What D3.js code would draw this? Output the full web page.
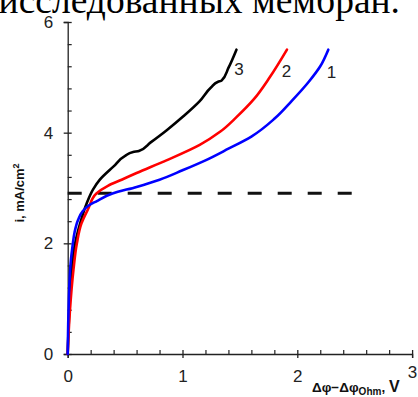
<!DOCTYPE html>
<html>
<head>
<meta charset="utf-8">
<script src="https://cdn.jsdelivr.net/npm/d3@7"></script>
<style>
  html, body { margin: 0; padding: 0; background: #fff; }
  svg { display: block; }
</style>
</head>
<body>
<svg id="chart" width="418" height="397"></svg>
<script>
// Polarisation curves: current density vs. potential drop (minus ohmic part)
const curve1X = [0, 0.004, 0.010, 0.018, 0.028, 0.042, 0.06, 0.09, 0.13, 0.18, 0.25, 0.39, 0.6, 0.8, 1.0, 1.2, 1.4, 1.6, 1.8, 1.95, 2.1, 2.2, 2.27];
const curve1I = [0, 0.5, 1.0, 1.4, 1.7, 1.95, 2.2, 2.42, 2.58, 2.68, 2.76, 2.9, 3.02, 3.15, 3.32, 3.5, 3.71, 3.93, 4.25, 4.57, 4.92, 5.2, 5.5];

const curve2X = [0, 0.006, 0.02, 0.05, 0.08, 0.12, 0.18, 0.25, 0.35, 0.47, 0.6, 0.86, 1.15, 1.33, 1.47, 1.62, 1.76, 1.91];
const curve2I = [0, 0.3, 0.8, 1.52, 2.0, 2.36, 2.63, 2.9, 3.04, 3.15, 3.27, 3.5, 3.78, 4.02, 4.28, 4.6, 5.0, 5.5];

const curve3X = [0, 0.01, 0.02, 0.035, 0.06, 0.107, 0.165, 0.22, 0.28, 0.40, 0.5, 0.57, 0.62, 0.72, 0.86, 1.01, 1.15, 1.25, 1.31, 1.34, 1.40, 1.47];
const curve3I = [0, 0.6, 1.1, 1.5, 1.95, 2.35, 2.72, 2.97, 3.15, 3.39, 3.58, 3.65, 3.67, 3.82, 4.04, 4.3, 4.57, 4.82, 4.92, 4.94, 5.17, 5.5];

// Limiting current level (dashed)
const limitX = [0, 2.52];
const limitI = [2.906, 2.906];

const xMajorTicks = [0, 1, 2, 3];
const xMinorTicks = [0.2, 0.4, 0.6, 0.8, 1.2, 1.4, 1.6, 1.8, 2.2, 2.4, 2.6, 2.8];
const yMajorTicks = [0, 2, 4, 6];
const yMinorTicks = [0.4, 0.8, 1.2, 1.6, 2.4, 2.8, 3.2, 3.6, 4.4, 4.8, 5.2, 5.6];

const curveLabels = ["1", "2", "3"];
const curveLabelX = [2.256, 1.864, 1.45];
const curveLabelI = [4.98, 5.01, 5.04];

const headingText = "исследованных мембран.";

const svg = d3.select("#chart");
const x = d3.scaleLinear().domain([0, 3]).range([67.7, 412.1]);
const y = d3.scaleLinear().domain([0, 6]).range([354, 22]);

// heading line of the surrounding text
svg.append("text")
  .attr("x", 400).attr("y", 13)
  .attr("text-anchor", "end")
  .attr("font-family", "'Liberation Serif', 'Times New Roman', serif")
  .attr("font-size", 37.5)
  .attr("fill", "#000")
  .text(headingText);

const axisColor = "#222";
const tickFont = "'Liberation Sans', Arial, sans-serif";

// x axis
const gx = svg.append("g").attr("transform", `translate(0,${y(0)})`);
gx.call(d3.axisBottom(x).tickValues(xMajorTicks).tickSize(4).tickPadding(12).tickFormat(d3.format("d")));
gx.select(".domain").attr("stroke", axisColor).attr("stroke-width", 1.3);
gx.selectAll(".tick line").attr("y1", -4).attr("stroke", axisColor).attr("stroke-width", 1.3);
gx.selectAll(".tick text").attr("font-family", tickFont).attr("font-size", 17).attr("fill", "#222");
// the last label sits slightly higher, next to the axis title
gx.selectAll(".tick text").filter(d => d === 3).attr("transform", "translate(0,-4)");
const gxm = svg.append("g").attr("transform", `translate(0,${y(0)})`);
gxm.call(d3.axisTop(x).tickValues(xMinorTicks).tickSize(4).tickFormat(""));
gxm.select(".domain").remove();
gxm.selectAll(".tick line").attr("stroke", axisColor).attr("stroke-width", 1.2);

// y axis
const gy = svg.append("g").attr("transform", `translate(${x(0)},0)`);
gy.call(d3.axisLeft(y).tickValues(yMajorTicks).tickSize(4).tickPadding(10.5).tickFormat(d3.format("d")));
gy.select(".domain").attr("stroke", axisColor).attr("stroke-width", 1.3);
gy.selectAll(".tick line").attr("x1", 4).attr("stroke", axisColor).attr("stroke-width", 1.3);
gy.selectAll(".tick text").attr("font-family", tickFont).attr("font-size", 17).attr("fill", "#222");
const gym = svg.append("g").attr("transform", `translate(${x(0)},0)`);
gym.call(d3.axisRight(y).tickValues(yMinorTicks).tickSize(4).tickFormat(""));
gym.select(".domain").remove();
gym.selectAll(".tick line").attr("stroke", axisColor).attr("stroke-width", 1.2);

// dashed limiting-current line
svg.append("path")
  .datum(d3.zip(limitX, limitI))
  .attr("d", d3.line().x(d => x(d[0])).y(d => y(d[1])))
  .attr("fill", "none").attr("stroke", "#111").attr("stroke-width", 3)
  .attr("stroke-dasharray", "14,16");

// curves (3 under 2 under 1)
const curves = [
  { xs: curve3X, is: curve3I, color: "#000000" },
  { xs: curve2X, is: curve2I, color: "#ff0000" },
  { xs: curve1X, is: curve1I, color: "#0000ff" }
];
const lineY = d3.line().x(d => x(d[0])).y(d => y(d[1])).curve(d3.curveMonotoneY);
curves.forEach(c => {
  svg.append("path")
    .datum(d3.zip(c.xs, c.is))
    .attr("d", lineY)
    .attr("fill", "none")
    .attr("stroke", c.color)
    .attr("stroke-width", 2.6)
    .attr("stroke-linejoin", "round")
    .attr("stroke-linecap", "round");
});

// curve numbers
svg.append("g").selectAll("text")
  .data(curveLabels)
  .join("text")
  .attr("x", (d, k) => x(curveLabelX[k]))
  .attr("y", (d, k) => y(curveLabelI[k]))
  .attr("font-family", tickFont)
  .attr("font-size", 17)
  .attr("fill", "#222")
  .text(d => d);

// axis titles
const yTitle = svg.append("text")
  .attr("transform", "translate(23.5,193) rotate(-90)")
  .attr("text-anchor", "middle")
  .attr("font-family", tickFont)
  .attr("font-weight", "bold")
  .attr("font-size", 13)
  .attr("fill", "#111");
yTitle.append("tspan").text("i, mA/cm");
yTitle.append("tspan").attr("font-size", 9).attr("dy", -5).text("2");

const xTitle = svg.append("text")
  .attr("x", 312).attr("y", 392)
  .attr("font-family", tickFont)
  .attr("font-weight", "bold")
  .attr("font-size", 13.5)
  .attr("fill", "#111");
xTitle.append("tspan").text("Δφ−Δφ");
xTitle.append("tspan").attr("font-size", 10).attr("dy", 3).text("Ohm");
xTitle.append("tspan").attr("dy", -3).text(", ");
xTitle.append("tspan").attr("font-size", 16).text("V");
</script>
</body>
</html>
